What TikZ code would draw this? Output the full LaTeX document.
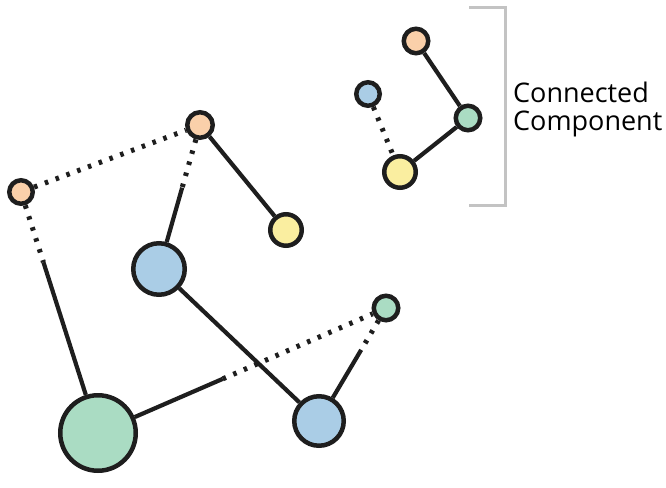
\documentclass[tikz,border=0pt]{standalone}
\usepackage{fontspec}
\setsansfont{Open Sans}
\usetikzlibrary{shadows}
\definecolor{ink}{RGB}{30,30,30}
\definecolor{peach}{RGB}{250,208,170}
\definecolor{lemon}{RGB}{250,238,160}
\definecolor{sky}{RGB}{170,205,230}
\definecolor{mint}{RGB}{170,220,195}
\definecolor{brk}{RGB}{195,195,195}
\begin{document}
\begin{tikzpicture}[x=1pt,y=-1pt,
    vtx/.style={circle,draw=ink,line width=4.5pt,inner sep=0pt,
      drop shadow={shadow xshift=1.5pt,shadow yshift=-1.5pt,opacity=0.3}},
    link/.style={draw=ink,line width=4.2pt},
    dotline/.style={link,line width=5pt,dash pattern=on 3.5pt off 8pt}]
      \useasboundingbox (0,0) rectangle (666,487);
      \node[vtx,fill=peach,minimum size=23.5pt] (o1) at (21,192) {};
      \node[vtx,fill=peach,minimum size=25.5pt] (o2) at (200,125) {};
      \node[vtx,fill=lemon,minimum size=31.5pt] (y1) at (286,230) {};
      \node[vtx,fill=sky,minimum size=51.5pt] (b1) at (159,269) {};
      \node[vtx,fill=mint,minimum size=24.5pt] (g1) at (386,308) {};
      \node[vtx,fill=mint,minimum size=75.5pt] (G) at (98,433) {};
      \node[vtx,fill=sky,minimum size=49.5pt] (b2) at (319,421) {};
      \node[vtx,fill=peach,minimum size=24.5pt] (o3) at (416,41) {};
      \node[vtx,fill=sky,minimum size=23.5pt] (b3) at (368,94) {};
      \node[vtx,fill=mint,minimum size=24.5pt] (g2) at (468,118) {};
      \node[vtx,fill=lemon,minimum size=31.5pt] (y2) at (400,172) {};
      \path (o1) -- (G) coordinate[pos=0.3] (m1);
      \path (o2) -- (b1) coordinate[pos=0.47] (m2);
      \path (G) -- (g1) coordinate[pos=0.37] (m3);
      \path (g1) -- (b2) coordinate[pos=0.38] (m4);
      \draw[dotline] (o1) -- (o2);
      \draw[dotline] (o1) -- (m1);
      \draw[link] (m1) -- (G);
      \draw[dotline] (o2) -- (m2);
      \draw[link] (m2) -- (b1);
      \draw[link] (o2) -- (y1);
      \draw[link] (b1) -- (b2);
      \draw[link] (G) -- (m3);
      \draw[dotline] (m3) -- (g1);
      \draw[dotline] (g1) -- (m4);
      \draw[link] (m4) -- (b2);
      \draw[link] (o3) -- (g2);
      \draw[link] (g2) -- (y2);
      \draw[dotline] (b3) -- (y2);
      \draw[brk,line width=3pt] (469,8) -- (505,8) -- (505,205) -- (469,205);
      \node[anchor=west,align=left,inner sep=0pt,
        font=\sffamily\fontsize{27}{28}\selectfont] (cc) at (513,109) {Connected\\Component};
    \end{tikzpicture}
\end{document}
